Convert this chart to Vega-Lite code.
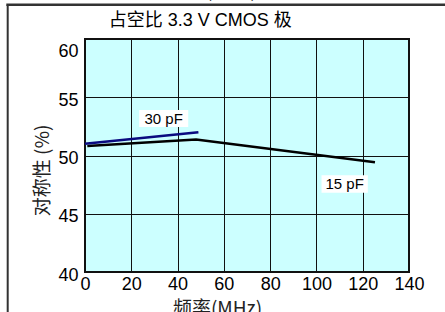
{
  "$schema": "https://vega.github.io/schema/vega-lite/v6.json",
  "autosize": "none",
  "width": 324,
  "height": 233,
  "padding": {"left": 85, "top": 39, "right": 36, "bottom": 40},
  "background": "white",
  "config": {
    "font": "Liberation Sans, Noto Sans CJK SC",
    "view": {"fill": "#ccffff", "stroke": "#111", "strokeWidth": 2},
    "axis": {
      "labelFont": "Liberation Sans",
      "labelColor": "black",
      "labelFontSize": 18,
      "labelFlush": false,
      "labelOverlap": false,
      "titleFont": "Noto Sans CJK SC, Liberation Sans",
      "titleFontWeight": "normal",
      "titleColor": "#222",
      "titleFontSize": 19,
      "ticks": false,
      "domain": false,
      "gridColor": "#111",
      "gridOpacity": 1,
      "gridWidth": 1
    }
  },
  "datasets": {
    "lines": [
      {"series": "15 pF", "freq": 1, "duty": 50.82},
      {"series": "15 pF", "freq": 48, "duty": 51.38},
      {"series": "15 pF", "freq": 125.3, "duty": 49.42},
      {"series": "30 pF", "freq": 0, "duty": 51.0},
      {"series": "30 pF", "freq": 49, "duty": 52.0}
    ],
    "labels": [
      {"label": "30 pF", "x": 34, "x0": 23.4, "x1": 44.6, "y": 53.16, "y0": 53.9, "y1": 52.44},
      {"label": "15 pF", "x": 112.2, "x0": 102.2, "x1": 122.2, "y": 47.55, "y0": 48.3, "y1": 46.81}
    ],
    "titles": [
      {"t": "占空比 3.3 V CMOS 极", "x": 49.8, "y": 61.1}
    ]
  },
  "layer": [
    {
      "data": {"name": "lines"},
      "mark": {"type": "line", "strokeWidth": 2.5},
      "encoding": {
        "x": {
          "field": "freq",
          "type": "quantitative",
          "scale": {"domain": [0, 140], "nice": false, "zero": false},
          "axis": {
            "values": [0, 20, 40, 60, 80, 100, 120, 140],
            "labelPadding": 3,
            "title": "频率(MHz)",
            "titleX": 132,
            "titleY": 27,
            "titleBaseline": "top",
            "titleAnchor": "middle"
          }
        },
        "y": {
          "field": "duty",
          "type": "quantitative",
          "scale": {"domain": [40, 60], "nice": false, "zero": false},
          "axis": {
            "values": [40, 45, 50, 55, 60],
            "labelPadding": 7,
            "labelOffset": 3,
            "labelBaseline": {"condition": {"test": "datum.value == 60", "value": "top"}, "value": "middle"},
            "title": "对称性 (%)",
            "titleX": -43,
            "titleY": 131,
            "titleAngle": -90,
            "titleBaseline": "middle",
            "titleAlign": "center"
          }
        },
        "color": {
          "field": "series",
          "type": "nominal",
          "scale": {"domain": ["15 pF", "30 pF"], "range": ["#000000", "#0a0a80"]},
          "legend": null
        }
      }
    },
    {
      "data": {"name": "labels"},
      "mark": {"type": "rect", "fill": "white"},
      "encoding": {
        "x": {"field": "x0", "type": "quantitative"},
        "x2": {"field": "x1"},
        "y": {"field": "y0", "type": "quantitative"},
        "y2": {"field": "y1"}
      }
    },
    {
      "data": {"name": "labels"},
      "mark": {"type": "text", "font": "Liberation Sans", "fontSize": 15, "color": "black", "align": "center", "baseline": "middle"},
      "encoding": {
        "x": {"field": "x", "type": "quantitative"},
        "y": {"field": "y", "type": "quantitative"},
        "text": {"field": "label"}
      }
    },
    {
      "data": {"name": "titles"},
      "mark": {"type": "text", "font": "Liberation Sans, Noto Sans CJK SC", "fontSize": 18, "color": "black", "align": "center", "baseline": "alphabetic", "clip": false},
      "encoding": {
        "x": {"field": "x", "type": "quantitative"},
        "y": {"field": "y", "type": "quantitative"},
        "text": {"field": "t"}
      }
    },
    {
      "data": {"values": [{"a": 1}]},
      "mark": {"type": "rule", "color": "#333", "strokeWidth": 2.5, "clip": false},
      "encoding": {
        "y": {"datum": 62.95},
        "x": {"datum": -34},
        "x2": {"datum": 156}
      }
    },
    {
      "data": {"values": [{"a": 1}]},
      "mark": {"type": "rule", "color": "#333", "strokeWidth": 2, "clip": false},
      "encoding": {
        "x": {"datum": -33.4},
        "y": {"datum": 62.95},
        "y2": {"datum": 36}
      }
    },
    {
      "data": {"values": [{"t": "频率(MHz)"}]},
      "mark": {"type": "text", "font": "Noto Sans CJK SC", "fontSize": 19, "color": "#222", "baseline": "bottom", "align": "center", "clip": false},
      "encoding": {
        "x": {"datum": 55},
        "y": {"datum": 63.22},
        "text": {"field": "t"}
      }
    }
  ]
}
